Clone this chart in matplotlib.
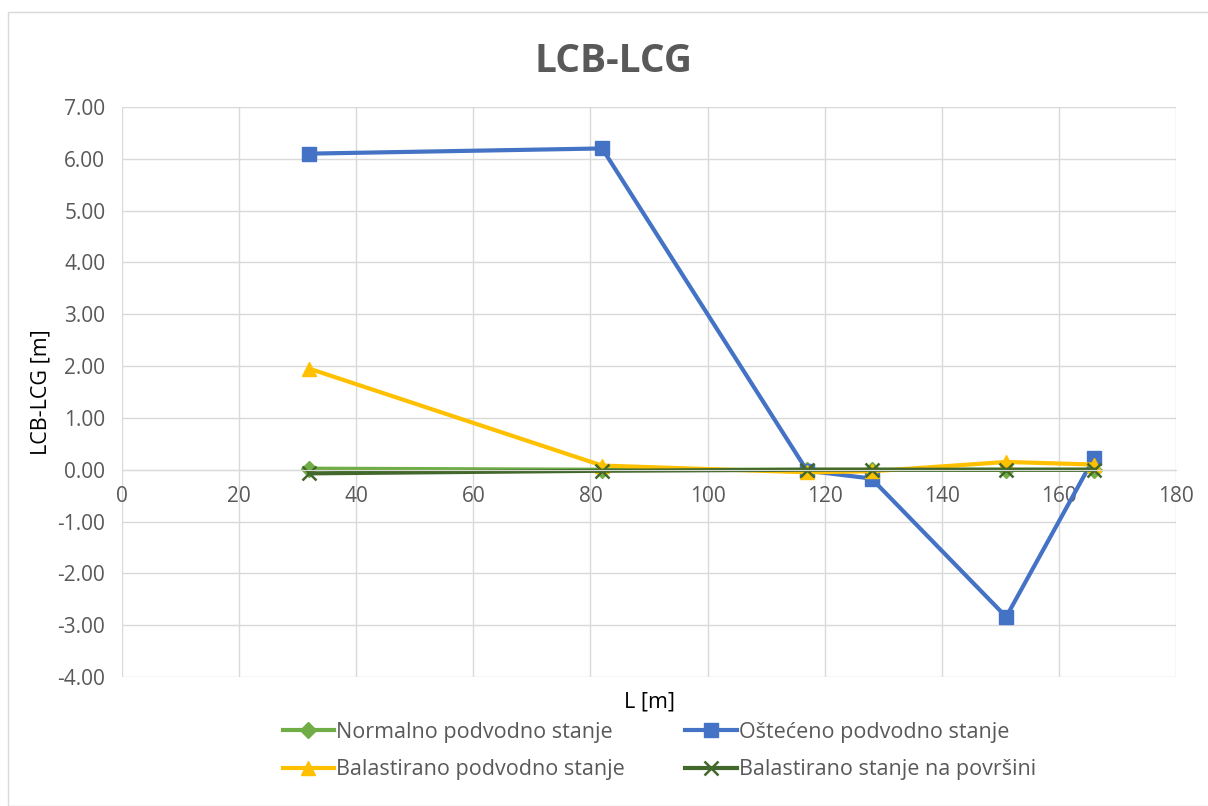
import numpy as np
import matplotlib.pyplot as plt
from matplotlib.patches import Rectangle

plt.rcParams['font.family'] = ['Open Sans', 'DejaVu Sans']

# data
x = [32, 82, 117, 128, 151, 166]
normalno = [0.02, 0.00, 0.00, 0.00, 0.00, 0.00]
osteceno = [6.10, 6.20, -0.02, -0.17, -2.84, 0.23]
balast_podv = [1.95, 0.08, -0.05, -0.03, 0.15, 0.10]
balast_povr = [-0.07, -0.02, 0.00, 0.00, 0.00, 0.00]

names = ['Normalno podvodno stanje', 'Oštećeno podvodno stanje',
         'Balastirano podvodno stanje', 'Balastirano stanje na površini']

fig = plt.figure(figsize=(12.08, 8.06), dpi=100)
fig.patches.append(Rectangle((8 / 1208, 0), 1, 1 - 12 / 806, transform=fig.transFigure,
                             fill=False, edgecolor='#d9d9d9', lw=1))
ax = fig.add_axes([122 / 1208, 1 - 677 / 806, (1176 - 122) / 1208, (677 - 107) / 806])

l1, = ax.plot(x, normalno, color='#70ad47', lw=3, marker='D', ms=8, label=names[0])
l2, = ax.plot(x, osteceno, color='#4472c4', lw=3, marker='s', ms=10, label=names[1])
l3, = ax.plot(x, balast_podv, color='#ffc000', lw=3, marker='^', ms=10, label=names[2])
l4, = ax.plot(x, balast_povr, color='#43682b', lw=3, marker='x', ms=10, mew=1.8, label=names[3])

ax.set_xlim(0, 180)
ax.set_ylim(-4, 7)
ax.set_xticks(np.arange(0, 181, 20))
ax.set_yticks(np.arange(-4, 7.1, 1))
ax.yaxis.set_major_formatter(plt.FuncFormatter(lambda v, p: f'{v:.2f}'))
ax.grid(True, color='#d9d9d9', lw=1)
ax.set_axisbelow(True)
for s in ['top', 'right', 'left']:
    ax.spines[s].set_visible(False)
ax.spines['bottom'].set_position(('data', 0))
ax.spines['bottom'].set_color('#d9d9d9')
ax.tick_params(length=0, labelsize=15, colors='#595959', pad=12)
ax.tick_params(axis='x', pad=12)

fig.text(613 / 1208, 1 - 62 / 806, 'LCB-LCG', fontsize=28, fontweight='bold',
         color='#595959', ha='center', va='center')
ax.set_ylabel('LCB-LCG [m]', fontsize=15.5, color='black', labelpad=4)
ax.set_xlabel('L [m]', fontsize=15.5, color='black')
ax.xaxis.set_label_coords(0.5, -0.025)

ax.legend(handles=[l1, l3, l2, l4], ncol=2, loc='upper center', bbox_to_anchor=(0.51, -0.045),
          frameon=False, fontsize=15.5, labelcolor='#595959', handlelength=2.4,
          handletextpad=0.1, columnspacing=2.8, labelspacing=0.75)

fig.savefig('out.png', dpi=100)
